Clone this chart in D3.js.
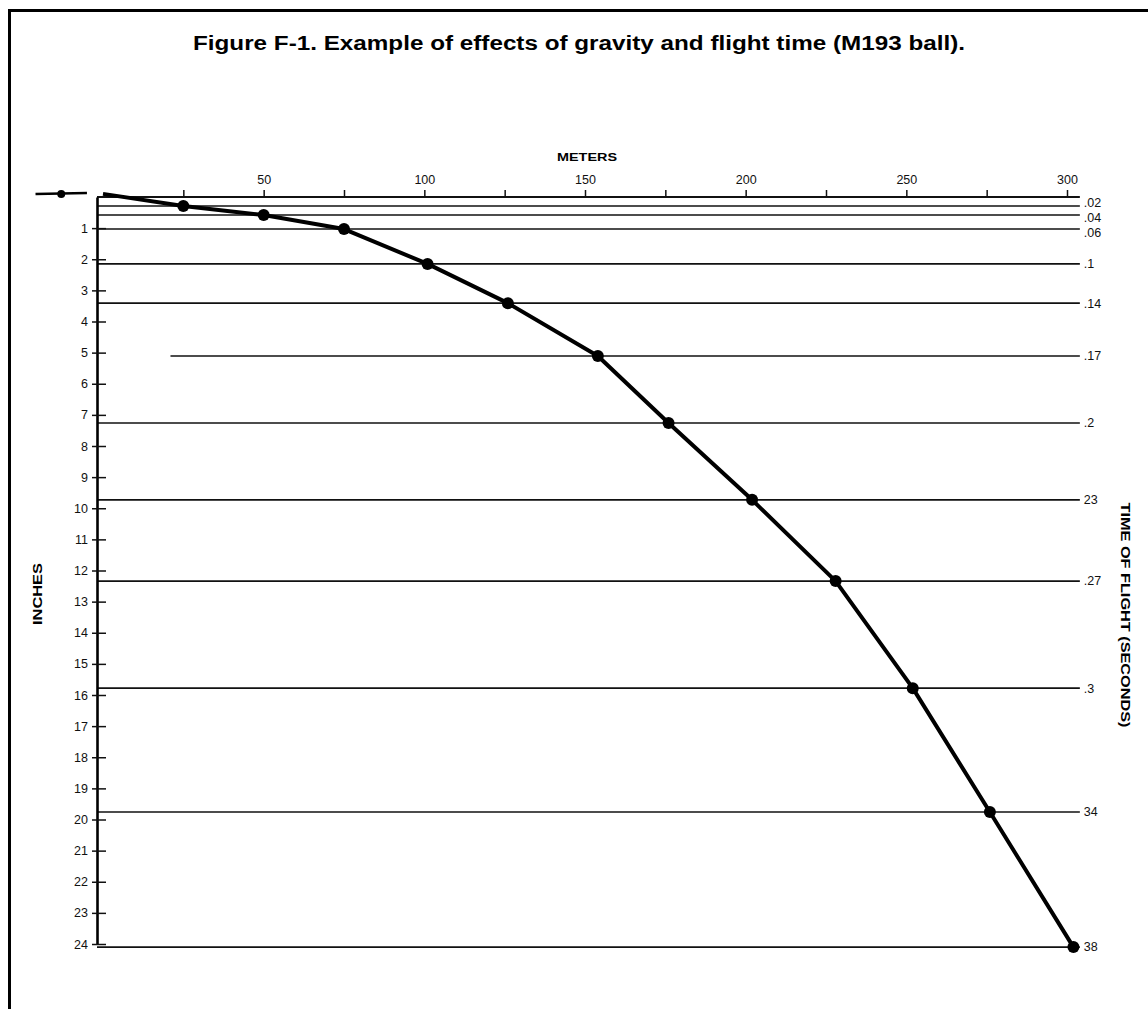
<!DOCTYPE html>
<head>
  <meta charset="utf-8">
  <script src="https://d3js.org/d3.v7.min.js"></script>
  <style>
body { margin: 0; background: #fff; }
svg { display: block; font-family: "Liberation Sans", Arial, sans-serif; }
.tick text { fill: #111; font-size: 12.5px; }
.tick line { stroke: #111; stroke-width: 1.5px; }
.flight { stroke: #111; stroke-width: 1.6px; }
  </style>
</head>

<body>
  <script>
    // trajectory points: range (m) and drop (in)
    var pointMeters = [25, 50, 75, 101, 126, 154, 176, 202, 228, 252, 276, 302];
    var pointDrops  = [0.29, 0.58, 1.03, 2.15, 3.41, 5.11, 7.26, 9.73, 12.34, 15.78, 19.76, 24.1];
    var startMeters = 0, startDrop = -0.1;

    // time of flight lines (one per point), labels as printed
    var flightLabels = [".02", ".04", ".06", ".1", ".14", ".17", ".2", "23", ".27", ".3", "34", "38"];
    var flightStartMeters = [0, 0, 0, 0, 0, 21, 0, 0, 0, 0, 0, 0];
    var flightEndMeters = 304;

    // muzzle mark left of the origin
    var muzzleMeters = [-21, -5];
    var muzzleDotMeters = -13;

    var meterTicks = [25, 50, 75, 100, 125, 150, 175, 200, 225, 250, 275, 300];
    var meterLabels = [50, 100, 150, 200, 250, 300];
    var inchTicks = [1, 2, 3, 4, 5, 6, 7, 8, 9, 10, 11, 12, 13, 14, 15, 16, 17, 18, 19, 20, 21, 22, 23, 24];

    var W = 1148, H = 1009;
    var axisX = 97;

    var svg = d3.select("body").append("svg")
      .attr("width", W)
      .attr("height", H);

    svg.append("rect").attr("width", W).attr("height", H).attr("fill", "#fff");

    // frame (left and top edges only, as scanned)
    svg.append("line").attr("x1", 9.5).attr("y1", 9).attr("x2", 9.5).attr("y2", H)
      .attr("stroke", "#000").attr("stroke-width", 3);
    svg.append("line").attr("x1", 8).attr("y1", 10.5).attr("x2", W).attr("y2", 10.5)
      .attr("stroke", "#000").attr("stroke-width", 3);

    svg.append("text")
      .attr("x", 193).attr("y", 50)
      .attr("font-size", 20).attr("font-weight", "bold")
      .attr("textLength", 772).attr("lengthAdjust", "spacingAndGlyphs")
      .text("Figure F-1. Example of effects of gravity and flight time (M193 ball).");

    var x = d3.scaleLinear().domain([0, 300]).range([103, 1067]);
    var y = d3.scaleLinear().domain([0, 24]).range([197, 944]);

    // time of flight lines
    svg.append("g").selectAll("line")
      .data(pointDrops)
      .enter().append("line")
      .attr("class", "flight")
      .attr("x1", (d, i) => flightStartMeters[i] ? x(flightStartMeters[i]) : axisX)
      .attr("x2", x(flightEndMeters))
      .attr("y1", d => y(d))
      .attr("y2", d => y(d));

    // labels: keep the crowded top ones apart
    var labelY = [];
    pointDrops.forEach(function(d, i) {
      var p = i == 0 ? y(d) - 3 : Math.max(y(d), labelY[i - 1] + 15);
      labelY.push(p);
    });

    svg.append("g").selectAll("text")
      .data(pointDrops)
      .enter().append("text")
      .attr("x", x(flightEndMeters) + 4)
      .attr("y", (d, i) => labelY[i])
      .attr("dy", "0.35em")
      .attr("font-size", 12.5)
      .attr("fill", "#111")
      .text((d, i) => flightLabels[i]);

    // top meters axis
    svg.append("line")
      .attr("x1", axisX).attr("x2", x(flightEndMeters))
      .attr("y1", y(0)).attr("y2", y(0))
      .attr("stroke", "#111").attr("stroke-width", 1.8);

    var xAxis = svg.append("g")
      .attr("transform", "translate(0," + y(0) + ")")
      .call(d3.axisTop(x).tickValues(meterTicks).tickSize(7).tickSizeOuter(0).tickPadding(6)
        .tickFormat(d => meterLabels.indexOf(d) >= 0 ? d : ""));
    xAxis.select(".domain").remove();
    xAxis.selectAll("text").attr("font-family", null).attr("font-size", null);

    svg.append("text")
      .attr("x", 587).attr("y", 161)
      .attr("text-anchor", "middle")
      .attr("font-size", 11.5).attr("font-weight", "bold")
      .attr("textLength", 60).attr("lengthAdjust", "spacingAndGlyphs")
      .text("METERS");

    // left inches axis
    var yAxis = svg.append("g")
      .attr("transform", "translate(" + axisX + ",0)")
      .call(d3.axisLeft(y).tickValues(inchTicks).tickSize(5).tickSizeOuter(0).tickPadding(4));
    yAxis.select(".domain").attr("stroke", "#000").attr("stroke-width", 2.6);
    yAxis.selectAll(".tick line").attr("x1", 9);
    yAxis.selectAll("text").attr("font-family", null).attr("font-size", null);

    svg.append("text")
      .attr("transform", "translate(42,594) rotate(-90)")
      .attr("text-anchor", "middle")
      .attr("font-size", 12.5).attr("font-weight", "bold")
      .attr("textLength", 62).attr("lengthAdjust", "spacingAndGlyphs")
      .text("INCHES");

    svg.append("text")
      .attr("transform", "translate(1121,615) rotate(90)")
      .attr("text-anchor", "middle")
      .attr("font-size", 12.5).attr("font-weight", "bold")
      .attr("textLength", 225).attr("lengthAdjust", "spacingAndGlyphs")
      .text("TIME OF FLIGHT (SECONDS)");

    // muzzle mark
    svg.append("line")
      .attr("x1", x(muzzleMeters[0])).attr("y1", y(startDrop))
      .attr("x2", x(muzzleMeters[1])).attr("y2", y(startDrop) - 1)
      .attr("stroke", "#000").attr("stroke-width", 2.5);
    svg.append("circle")
      .attr("cx", x(muzzleDotMeters)).attr("cy", y(startDrop))
      .attr("r", 4).attr("fill", "#000");

    // trajectory
    var traj = [[startMeters, startDrop]].concat(pointMeters.map((m, i) => [m, pointDrops[i]]));
    var line = d3.line().x(d => x(d[0])).y(d => y(d[1]));

    svg.append("path")
      .datum(traj)
      .attr("d", line)
      .attr("fill", "none")
      .attr("stroke", "#000")
      .attr("stroke-width", 4)
      .attr("stroke-linejoin", "round");

    svg.append("g").selectAll("circle")
      .data(pointMeters)
      .enter().append("circle")
      .attr("cx", d => x(d))
      .attr("cy", (d, i) => y(pointDrops[i]))
      .attr("r", 6)
      .attr("fill", "#000");
  </script>
</body>
